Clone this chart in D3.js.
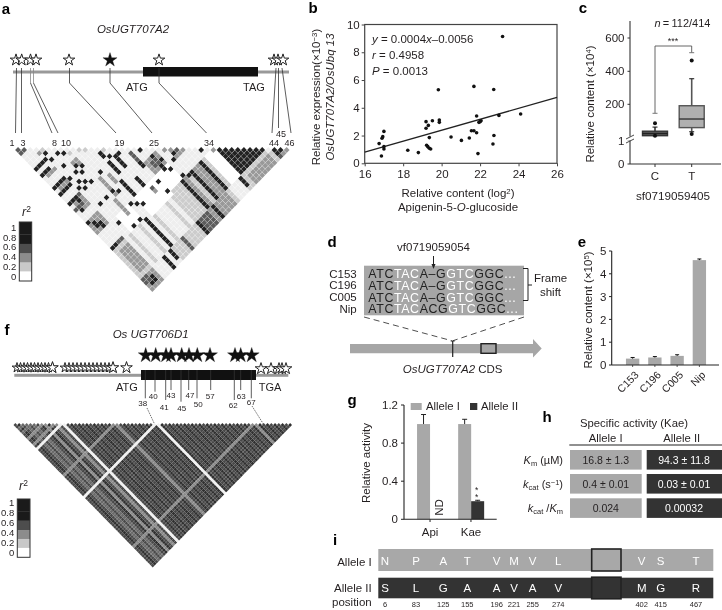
<!DOCTYPE html>
<html><head><meta charset="utf-8">
<script src="https://cdn.jsdelivr.net/npm/d3@7"></script>
<style>html,body{margin:0;padding:0;background:#fff}svg{display:block;filter:blur(0.3px)}text{font-family:"Liberation Sans",Arial,sans-serif;fill:#231f20}</style>
</head><body><div id="c"></div>
<script>
// ---------- data ----------
const ldPalette=["#ffffff","#eeeeee","#cccccc","#999999","#5c5c5c","#222222"];
const legendColors=["#1a1a1a","#1a1a1a","#4d4d4d","#8c8c8c","#c8c8c8","#ffffff"];
const legendLabels=["1","0.8","0.6","0.4","0.2","0"];
// panel a LD: [i0,i1,j0,j1,level], later entries overwrite earlier ones
const ldBlocksA=[
[5,5,33,41,2],[8,8,33,41,2],[16,16,33,41,2],[18,18,33,41,2],[12,12,33,41,2],[5,12,10,30,1],[13,18,18,30,1],[19,22,28,32,0],[12,18,28,33,0],[6,9,28,32,0],
[0,3,33,41,2],[1,3,34,40,3],[19,21,33,41,2],[23,23,33,41,3],[24,24,33,41,2],[26,27,33,41,3],[29,29,33,41,2],[30,33,33,41,0],[28,28,42,45,2],[24,27,42,45,3],[22,22,42,45,3],[19,21,42,45,4],[14,17,42,45,2],[10,12,42,45,2],[4,6,42,45,1],
[33,41,42,45,2],[34,40,43,45,3],[32,32,42,45,2],
[0,1,1,2,4],[1,2,2,2,4],[0,0,1,1,4],
[0,3,42,45,3],[1,2,43,44,5],[0,1,42,43,4],
[0,3,24,27,3],[0,0,24,24,5],[1,1,25,26,5],[2,2,26,27,5],[1,3,19,21,3],[2,2,19,20,5],[1,1,20,21,5],[0,2,20,20,4],
[19,22,24,27,3],[20,21,25,26,4],[22,22,26,26,5],[21,21,27,27,5],[25,27,26,28,3],[26,26,27,27,4],[24,24,25,25,3],
[9,9,19,24,3],[8,8,25,29,3],[16,16,29,30,3],[11,11,20,22,3],[7,8,12,13,3],[14,16,11,12,3],
[33,40,34,41,5],[34,36,35,37,5],
[42,43,43,44,5],[42,42,44,44,5],[44,44,45,45,3],[43,43,45,45,3],[42,42,45,45,4],[41,41,42,42,1],
[0,3,7,7,5],[0,1,9,9,5],[2,2,9,9,5],[1,3,10,10,3],[0,3,13,13,5],[1,3,14,14,3],[0,3,15,15,5],[0,2,18,18,5],[3,3,18,18,4],[0,3,32,32,5],[0,1,32,32,5],[2,3,32,32,4],
[4,4,5,5,2],[13,13,18,21,5],[12,12,23,27,5],[15,15,25,27,5],[15,15,19,21,5],[18,18,20,24,4],
[10,10,33,41,5],[7,7,42,45,5],[9,9,42,44,5],[13,13,42,45,4],[18,18,42,45,5],[23,23,42,45,5],[22,22,33,41,5],[25,25,33,41,5],[28,28,33,41,5],[32,32,42,44,5]
];
// panel a LD single cells: [i,j,level]
const ldSinglesA=[[4,6,5],[6,8,5],[7,9,5],[4,8,5],[5,11,5],[7,13,5],[8,14,5],[6,14,5],[7,15,5],[5,16,5],[6,17,5],[7,18,5],[5,18,5],[4,17,5],[4,14,5],[13,15,5],[14,17,5],[15,18,5],[16,18,5],[10,18,5],[13,16,5],[7,23,5],[9,23,5],[10,24,5],[5,23,5],[5,29,5],[10,28,5],[11,29,5],[12,30,5],[15,26,5],[18,32,5],[18,29,5],[21,28,5],[22,29,5],[23,32,5],[24,33,5],[18,23,5],[18,24,5],[20,21,5],[25,27,5],[24,28,5],[21,24,5],[7,32,5],[9,32,5],[30,31,5],[32,33,3],[16,29,4],[3,5,3],[8,10,2],[10,11,2],[11,12,2],[14,15,2]];
// panel b
const bX=[23.17,19.83,21.68,22.71,24.11,22.98,21.82,19.19,19.52,19.88,19.88,19.31,19.19,17.0,16.94,16.9,16.75,17.0,17.0,16.87,18.24,18.79,19.36,19.22,19.28,19.36,19.43,20.49,21.03,21.44,21.55,21.68,21.82,21.94,22.05,22.0,22.72,22.67,21.89];
const bY=[9.14,5.3,5.54,5.32,3.55,3.45,3.41,3.0,3.07,3.12,2.95,2.73,2.52,2.3,1.92,1.8,1.42,1.2,1.03,0.53,0.94,0.77,1.85,1.3,1.2,1.08,1.03,1.9,1.65,1.82,2.35,2.35,2.2,2.95,3.07,3.0,2.0,1.39,0.7];
const bRegX=[16,26], bRegY=[0.8,4.75];
const bTicksX=[16,18,20,22,24,26], bTicksY=[0,2,4,6,8,10];
// panel c
const cCats=["C","T"];
const cQ1=[25,70],cMed=[37,118],cQ3=[50,192],cLo=[25,47],cHi=[73,355];
const cOutHi=[95,465],cOutLo=[25,34];
const cTicks=[0,1,200,400,600];
// panel d
const dRows=["C153","C196","C005","Nip"];
const dSeqs=[["ATC","TAC","A\u2013G","GTC","GGC","..."],["ATC","TAC","A\u2013G","GTC","GGC","..."],["ATC","TAC","A\u2013G","GTC","GGC","..."],["ATC","TAC","ACG","GTC","GGC","..."]];
// panel e
const eCats=["C153","C196","C005","Nip"],eVals=[0.28,0.33,0.4,4.6],eErr=[0.05,0.04,0.05,0.05];
const eTicks=[0,1,2,3,4,5];
// panel f LD: per SNP class
const fSnpCount=75;
const fWhite=[13,38],fGrey=[27,64,8,11],fFaint=[3,5];
const fBlack=[38,40,41,43,45,47,50,57,62,63,67];
// panel g
const gCats=["Api","Kae"],gI=[1,1],gIErr=[0.1,0.05],gII=[0,0.19],gIIErr=[0,0.01];
const gTicks=[0,0.4,0.8,1.2];
// panel h
const hRows=[["16.8 \u00b1 1.3","94.3 \u00b1 11.8"],["0.4 \u00b1 0.01","0.03 \u00b1 0.01"],["0.024","0.00032"]];
// panel i
const iPos=[6,83,125,155,196,221,255,274,402,415,467];
const iA=["N","P","A","T","V","M","V","L","V","S","T"];
const iB=["S","L","G","A","A","V","A","V","M","G","R"];

// ---------- helpers ----------
const svg=d3.select("#c").append("svg").attr("width",722).attr("height",610);
const GR="#a8a8a8";
const FS=11.5;
function T(x,y,s,o={}){
  const t=svg.append("text").attr("x",x).attr("y",y).attr("dy",".36em")
   .attr("font-size",o.size||FS).attr("text-anchor",o.anchor||"middle");
  if(o.weight)t.attr("font-weight",o.weight);
  if(o.italic)t.attr("font-style","italic");
  if(o.fill)t.style("fill",o.fill);
  if(o.spacing)t.attr("letter-spacing",o.spacing);
  if(o.rotate!=null)t.attr("transform",`rotate(${o.rotate} ${x} ${y})`);
  const parts=Array.isArray(s)?s:[[s,{}]];
  parts.forEach(([str,p])=>{
    const sp=t.append("tspan").text(str);
    if(p.i)sp.attr("font-style","italic");
    if(p.n)sp.attr("font-style","normal");
    if(p.sup){sp.attr("font-size",(o.size||FS)*.68).attr("dy","-.45em");}
    if(p.sub){sp.attr("font-size",(o.size||FS)*.68).attr("dy",".3em");}
    if(p.back){sp.attr("dy",p.back);}
    if(p.fill){sp.style("fill",p.fill);}
  });
  return t;
}
const L=(x1,y1,x2,y2,c="#333",w=1)=>svg.append("line").attr("x1",x1).attr("y1",y1).attr("x2",x2).attr("y2",y2).attr("stroke",c).attr("stroke-width",w);
const R=(x,y,w,h,f,s,sw)=>svg.append("rect").attr("x",x).attr("y",y).attr("width",w).attr("height",h).attr("fill",f||"none").attr("stroke",s||"none").attr("stroke-width",sw||0);
const starPath=(sz)=>d3.symbol(d3.symbolStar,sz)();
function stars(xs,y,sz,black){
  svg.append("g").selectAll("path").data(xs).join("path").attr("d",starPath(sz))
   .attr("transform",d=>`translate(${d},${y+1})`)
   .attr("fill",black?"#111":"#fff").attr("stroke",black?"#111":"#222").attr("stroke-width",black?0.3:1);
}
function letter(x,y,s){T(x,y,s,{size:15,weight:"bold",fill:"#000"});}
function colorbar(x,y,w,h,labY){
  const rows=[1.3,1,1,.95,.95,1];
  const total=d3.sum(rows);let cy=y;
  rows.forEach((r,k)=>{const hh=r/total*h;R(x,cy,w,hh+.3,legendColors[k]);cy+=hh;});
  R(x,y,w,h,"none","#333",1);
  legendLabels.forEach((t,k)=>T(x-3,labY[k],t,{size:9.5,anchor:"end"}));
}

// ---------- panel a ----------
letter(6,9,"a");
T(133,29,"OsUGT707A2",{italic:true});
R(13,70.5,276,3,"#999");
R(143,67,115,9.5,"#111");
const aTop=[16,21.7,30.5,36,69,159,274,278,283];
stars(aTop,59,42,false);
stars([110],59,62,true);
T(137,87,"ATG",{size:11});T(254,87,"TAG",{size:11});
const aLinks=[[16.5,15.5],[21.5,21.5],[30.5,52],[33.5,58],[69.5,116],[110,152],[159,206.5],[276,272],[278.5,278.5],[282,291]];
aLinks.forEach((d,k)=>{
  if(k==0||k==1||k>=7){L(d[0],68,d[1],k==8?128:133,"#333",.8);}
  else{L(d[0],68,d[0],83,k==2||k==3?"#888":"#333",.8);L(d[0],83,d[1],133,"#333",.8);}
});
[["1",12],["3",23],["8",54.5],["10",66],["19",119.5],["25",154],["34",209],["44",274],["46",289.5]].forEach(d=>T(d[1],143,d[0],{size:9}));
T(281,133.5,"45",{size:9});
// LD heatmap a
const nA=46;
const lvA=new Map();
ldBlocksA.forEach(b=>{for(let i=b[0];i<=b[1];i++)for(let j=b[2];j<=b[3];j++)if(j>i)lvA.set(i+"-"+j,b[4]);});
ldSinglesA.forEach(s=>lvA.set(s[0]+"-"+s[1],s[2]));
const cellsA=[];for(let i=0;i<nA;i++)for(let j=i+1;j<nA;j++){cellsA.push({i,j,l:lvA.has(i+"-"+j)?lvA.get(i+"-"+j):1});}
const axA=d3.scaleLinear().domain([0,nA-1]).range([15,289.7]);
const ayA=d3.scaleLinear().domain([0,nA-2]).range([150,289]);
const hxA=(axA(1)-axA(0))/2,hyA=ayA(1)-ayA(0);
const dia=(hx,hy)=>`M0,${-hy}L${hx},0L0,${hy}L${-hx},0Z`;
svg.append("g").selectAll("path").data(cellsA).join("path")
 .attr("d",dia(hxA*.95,hyA*.95)).attr("transform",d=>`translate(${(axA(d.i)+axA(d.j))/2},${ayA(d.j-d.i-1)})`)
 .attr("fill",d=>ldPalette[d.l]);
colorbar(19.3,222,12.4,59,[228,237.5,247,257,267,277]);
T(26.5,211,[["r",{i:1}],["2",{sup:1,n:1}]],{size:12.5});

// ---------- panel b ----------
letter(313,8,"b");
const bx=d3.scaleLinear().domain([16,26]).range([364.7,557]);
const by=d3.scaleLinear().domain([0,10]).range([163.3,24.5]);
R(364.7,24.5,192.3,138.8,"none","#444",1.2);
svg.append("g").attr("transform","translate(0,163.3)").call(d3.axisBottom(bx).tickValues(bTicksX).tickSize(3).tickFormat(d3.format("d")))
  .call(g=>{g.select(".domain").remove();g.selectAll("line").attr("stroke","#444");g.selectAll("text").attr("font-size",FS).attr("y",7).style("font-family",'"Liberation Sans"');});
svg.append("g").attr("transform","translate(364.7,0)").call(d3.axisLeft(by).tickValues(bTicksY).tickSize(3).tickFormat(d3.format("d")))
  .call(g=>{g.select(".domain").remove();g.selectAll("line").attr("stroke","#444");g.selectAll("text").attr("font-size",FS).attr("x",-5).style("font-family",'"Liberation Sans"');});
svg.append("line").attr("x1",bx(bRegX[0])).attr("y1",by(bRegY[0])).attr("x2",bx(bRegX[1])).attr("y2",by(bRegY[1])).attr("stroke","#222").attr("stroke-width",1.3);
svg.append("g").selectAll("circle").data(bX).join("circle").attr("cx",d=>bx(d)).attr("cy",(d,k)=>by(bY[k])).attr("r",1.8).attr("fill","#111");
T(372,39,[["y",{i:1}],[" = 0.0004",{}],["x",{i:1}],["\u20130.0056",{}]],{anchor:"start"});
T(372,55,[["r",{i:1}],[" = 0.4958",{}]],{anchor:"start"});
T(372,71,[["P",{i:1}],[" = 0.0013",{}]],{anchor:"start"});
T(316,97,[["Relative expression(\u00d710",{}],["\u22123",{sup:1}],[")",{back:".3em"}]],{rotate:-90});
T(330,97,"OsUGT707A2/OsUbq 13",{rotate:-90,italic:true});
T(458,193,[["Relative content (log",{}],["2",{sup:1}],[")",{back:".3em"}]]);
T(458,207,[["Apigenin-5-",{}],["O",{i:1}],["-glucoside",{}]]);

// ---------- panel c ----------
letter(583,8,"c");
const cy=d3.scaleLinear().domain(cTicks).range([164,140,104.3,71.3,38]);
const cx=d3.scalePoint().domain(cCats).range([655,691.7]);
L(630,21,630,164,"#333",1.1);L(630,164,721,164,"#333",1.1);
cTicks.forEach(t=>{L(627.5,cy(t),630,cy(t),"#333",1);T(624.5,t==1?141:cy(t),String(t),{anchor:"end"});});
cCats.forEach(c=>L(cx(c),164,cx(c),167,"#333",1));
R(626,136.5,8,4,"#fff");L(626,139,634,135,"#333",.9);L(626,143,634,139,"#333",.9);
const brY=46;
svg.append("path").attr("d",`M${cx("C")},113.3V${brY}H${cx("T")}V52.7`).attr("fill","none").attr("stroke","#555").attr("stroke-width",.9);
L(cx("C")-2.5,113.3,cx("C")+2.5,113.3,"#777",1);L(cx("T")-2.5,52.7,cx("T")+2.5,52.7,"#777",1);
T(673,41,"***",{size:9});
cCats.forEach((c,k)=>{
  const x=cx(c),hw=12.5,col=k?"#555":"#333";
  L(x,cy(cHi[k]),x,cy(cLo[k]),col,1.6);
  L(x-2.5,cy(cHi[k]),x+2.5,cy(cHi[k]),"#222",1.1);
  L(x-2.5,cy(cLo[k]),x+2.5,cy(cLo[k]),"#222",1.1);
  R(x-hw,cy(cQ3[k]),2*hw,cy(cQ1[k])-cy(cQ3[k]),k?"#b0b0b0":"#555",col,1.4);
  L(x-hw,cy(cMed[k]),x+hw,cy(cMed[k]),"#222",1.2);
  [cOutHi[k],cOutLo[k]].forEach(v=>svg.append("circle").attr("cx",x).attr("cy",cy(v)).attr("r",2).attr("fill","#111"));
  T(x,175.5,c);
});
T(673,196,"sf0719059405",{size:11.7});
T(682.5,23,[["n",{i:1}],["\u2009=\u2009112/414",{}]],{size:11});
T(590,104,[["Relative content (\u00d710",{}],["4",{sup:1}],[")",{back:".3em"}]],{rotate:-90});

// ---------- panel d ----------
letter(332,242,"d");
R(364,265.7,160,49.6,"#a6a6a6");
T(433.5,246.7,"vf0719059054");
L(433.5,256,433.5,266,"#222",1);
svg.append("path").attr("d","M431.5,264L433.5,269L435.5,264Z").attr("fill","#222");
const dY=d3.scalePoint().domain(dRows).range([273.5,309]);
dRows.forEach((r,k)=>{
  T(356.7,dY(r),r,{anchor:"end"});
  const cols=["#222","#fff","#222","#fff","#222","#fff"];
  T(368.3,dY(r),dSeqs[k].map((s,m)=>[s,{fill:cols[m]}]),{anchor:"start",size:12.4,spacing:.6});
});
svg.append("path").attr("d","M523,268.5H528V300.5H523M528,285H532").attr("fill","none").attr("stroke","#222").attr("stroke-width",1);
T(550.5,277.7,"Frame");T(550.5,291.7,"shift");
L(364,317,451.7,340.7,"#222",.8).attr("stroke-dasharray","6,4");
L(524,317,453,340.7,"#222",.8).attr("stroke-dasharray","6,4");
svg.append("path").attr("d","M350,344H533V339L541.7,348.5L533,357.5V353.3H350Z").attr("fill","#a6a6a6");
L(452.7,341,452.7,357,"#222",1.2);L(450.7,341,454.7,341,"#222",.9);
R(481,343.7,15,9.6,"none","#222",1.4);
T(452.7,368.7,[["OsUGT707A2",{i:1}],[" CDS",{}]]);

// ---------- panel e ----------
letter(582,242,"e");
const ex=d3.scaleBand().domain(eCats).range([621.5,710.5]).paddingInner(.4).paddingOuter(.2);
const ey=d3.scaleLinear().domain([0,5]).range([365,251]);
svg.append("g").selectAll("rect").data(eVals).join("rect").attr("x",(d,k)=>ex(eCats[k])).attr("y",d=>ey(d)).attr("width",ex.bandwidth()).attr("height",d=>ey(0)-ey(d)).attr("fill",GR);
eVals.forEach((v,k)=>{const x=ex(eCats[k])+ex.bandwidth()/2;L(x,ey(v),x,ey(v+eErr[k]),"#111",1);L(x-2,ey(v+eErr[k]),x+2,ey(v+eErr[k]),"#111",1);
 L(x,365,x,367,"#333",.8);
 T(x+3,372,eCats[k],{anchor:"end",rotate:-45,size:10.5}).attr("dy",".5em");});
L(611.7,251,611.7,365,"#222",1.1);L(611.7,365,719,365,"#222",1.1);
eTicks.forEach(t=>{L(609,ey(t),611.7,ey(t),"#222",1);T(606.5,ey(t),String(t),{anchor:"end"});});
T(588,310,[["Relative content (\u00d710",{}],["5",{sup:1}],[")",{back:".3em"}]],{rotate:-90});

// ---------- panel f ----------
letter(7,330,"f");
T(150.7,334,"Os UGT706D1",{italic:true});
R(14.3,373.8,274,3,"#999");
R(141,370,115,10,"#111");
const fPromA=[17,20.5,24,27.5,31,34.5,38,41.5,45,48.5,52.5];
const fPromB=[65,69,73,77,81,85,89,93,97,101,105,109,113];
stars(fPromA,366.7,30,false);stars(fPromB,366.7,30,false);stars([52.5,113,126.5],366.7,42,false);
stars([261,271,279,282,286],367.7,42,false);
const fTop=[145.7,155.7,166,171,181.7,189,197.3,210,235,240.7,251.7];
stars(fTop,354.3,70,true);
T(127,386.7,"ATG",{size:11});T(270,386.7,"TGA",{size:11});
const fTickX=[145.3,155,165.7,171,181,188.7,197,210.7,234.3,240.7,251.3];
const fTickEnd=[398.3,391.7,400,390,401.7,390,398.3,390,400,390,398.3];
const fLabX=[142.7,153.3,164.3,171,181.7,190,198.3,210.3,233.3,241.3,251.3];
const fLabY=[403.3,396,406.7,395,408.3,395,404,396,405,396,402];
fBlack.forEach((n,k)=>{L(fTickX[k],370,fTickX[k],fTickEnd[k],"#333",.8);T(fLabX[k],fLabY[k],String(n),{size:8});});
L(147,408,155,425,"#333",.7).attr("stroke-dasharray","1.5,1");
L(252,406,264,425,"#333",.7).attr("stroke-dasharray","1.5,1");
const cellsF=[];
for(let i=0;i<fSnpCount;i++)for(let j=i+1;j<fSnpCount;j++){cellsF.push({i,j});}
const fx=d3.scaleLinear().domain([0,fSnpCount-1]).range([13.5,292]);
const fy=d3.scaleLinear().domain([0,fSnpCount-2]).range([425,565.5]);
const snpClass=s=>fWhite.includes(s)?0:fGrey.includes(s)?1:fFaint.includes(s)?2:3;
const fColor=d=>{const c=Math.min(snpClass(d.i),snpClass(d.j));
  if(c==0)return "#f0f0f0"; if(c==1)return "#8a8a8a"; if(c==2)return "#6a6a6a";
  return (Math.floor((d.i+d.j)/2)+Math.floor((d.j-d.i)/2))%2?"#303030":"#484848";};
const hxF=(fx(1)-fx(0))/2,hyF=fy(1)-fy(0);
svg.append("g").selectAll("path").data(cellsF).join("path").attr("d",dia(hxF,hyF)).attr("transform",d=>`translate(${(fx(d.i)+fx(d.j))/2},${fy(d.j-d.i-1)})`).attr("fill",fColor);
colorbar(17.3,499,12.7,58.3,[503,513,523,532.7,542.7,552.7]);
T(23.5,485.5,[["r",{i:1}],["2",{sup:1,n:1}]],{size:12.5});

// ---------- panel g ----------
letter(352,400,"g");
const gy=d3.scaleLinear().domain([0,1.2]).range([519.3,405]);
const gx=d3.scaleBand().domain(gCats).range([410,491]).paddingInner(.02);
const barW=13;
gCats.forEach((c,k)=>{
  const mid=gx(c)+gx.bandwidth()/2;
  const xa=mid-barW+(k?0.2:-0),xb=mid+.2;
  R(xa,gy(gI[k]),barW,gy(0)-gy(gI[k]),GR);
  if(gII[k]>0)R(xb,gy(gII[k]),barW,gy(0)-gy(gII[k]),"#333");
  const x1=xa+barW/2;L(x1,gy(gI[k]),x1,gy(gI[k]+gIErr[k]),"#222",1);L(x1-2.5,gy(gI[k]+gIErr[k]),x1+2.5,gy(gI[k]+gIErr[k]),"#222",1);
  if(gII[k]>0){const x2=xb+barW/2;L(x2,gy(gII[k]),x2,gy(gII[k]+gIIErr[k]),"#222",1);L(x2-2.5,gy(gII[k]+gIIErr[k]),x2+2.5,gy(gII[k]+gIIErr[k]),"#222",1);}
  L(mid,519.3,mid,522,"#222",1);
  T(mid,532,c);
});
L(404,405,404,519.3,"#222",1.1);L(404,519.3,496.7,519.3,"#222",1.1);
gTicks.forEach(t=>{L(401,gy(t),404,gy(t),"#222",1);T(398,gy(t),String(t),{anchor:"end"});});
T(439.3,507.5,"ND",{rotate:-90});
T(476.7,489.5,"*",{size:8.5});T(476.7,497,"*",{size:8.5});
R(410.7,403,11,7,GR);T(426,406,"Allele I",{anchor:"start",size:11.3});
R(470,403,7.3,7,"#333");T(481,406,"Allele II",{anchor:"start",size:11.3});
T(366,463,"Relative activity",{rotate:-90});

// ---------- panel h ----------
letter(547,417,"h");
T(634,422.7,"Specific activity (Kae)",{size:11.3});
T(605.7,438,"Allele I",{size:11.3});T(681.7,438,"Allele II",{size:11.3});
L(569.3,445,722,445,"#222",1.2);
const hY=[450,474,498.3];
hRows.forEach((r,k)=>{
  R(570,hY[k],71.7,19.6,GR);R(646.7,hY[k],75.3,19.6,"#333");
  T(605.8,hY[k]+10,r[0],{size:10.5});T(684,hY[k]+10,r[1],{fill:"#fff",size:10.5});
});
T(563,460,[["K",{i:1}],["m",{sub:1}],[" (\u00b5M)",{back:"-.2em"}]],{anchor:"end",size:11});
T(563,484,[["k",{i:1}],["cat",{sub:1}],[" (s",{back:"-.2em"}],["\u22121",{sup:1}],[")",{back:".3em"}]],{anchor:"end",size:11});
T(563,508,[["k",{i:1}],["cat",{sub:1}],[" /",{back:"-.2em"}],["K",{i:1}],["m",{sub:1}]],{anchor:"end",size:11});

// ---------- panel i ----------
letter(335,540,"i");
R(378.3,549,335,22,GR);R(378.3,577.7,335,20.6,"#333");
const ix=d3.scaleLinear().domain(iPos).range([385,416,443.3,467.3,496.7,514,532.7,558.3,641.7,660.7,696]);
iPos.forEach((p,k)=>{
  T(ix(p),561,iA[k],{fill:"#fff"});
  T(ix(p),588,iB[k],{fill:"#fff"});
  T(ix(p),604.5,String(p),{size:7.5});
});
R(591.7,549,29.3,22,"none","#222",1.6);R(591.7,577.2,29.3,21.6,"none","#222",1.6);
T(371.7,562,"Allele I",{anchor:"end"});T(371.7,588,"Allele II",{anchor:"end"});T(371.7,602,"position",{anchor:"end"});
</script></body></html>
